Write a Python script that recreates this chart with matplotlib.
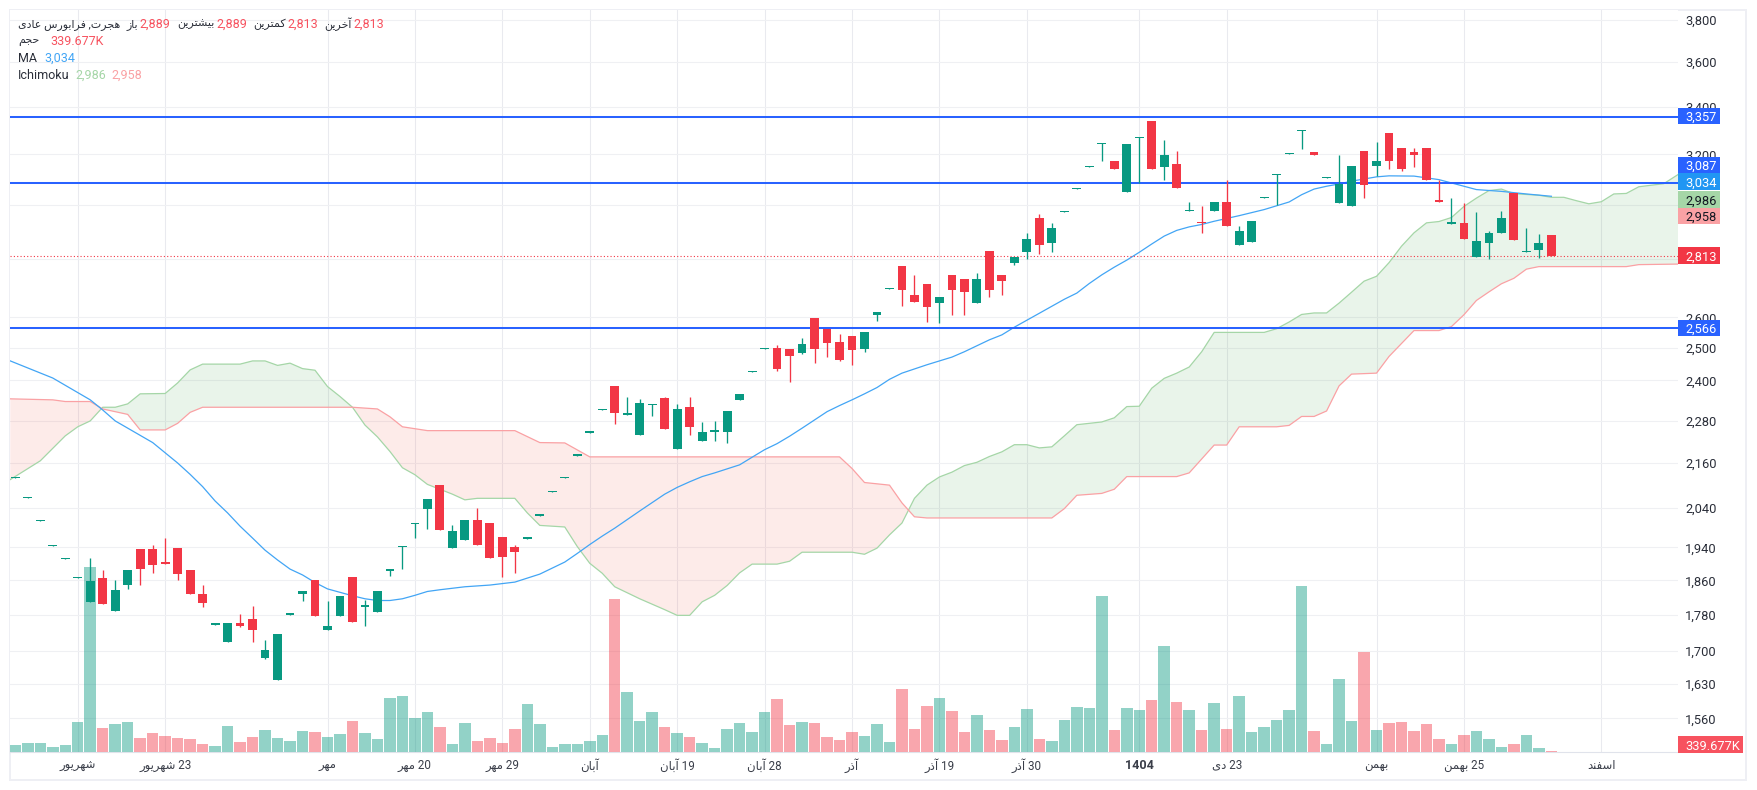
import numpy as np
import matplotlib
matplotlib.use("Agg")
import matplotlib.pyplot as plt
from matplotlib.patches import Rectangle
from matplotlib.ticker import NullLocator

plt.rcParams['font.family'] = ['Roboto', 'DejaVu Sans']

# OHLC, one row per session: open, high, low, close
ohlc = [
(2118,2122,2118,2122),(2065,2069,2065,2069),(2005,2009,2005,2009),(1943,1947,1943,1947),(1911,1915,1911,1915),
(1865,1869,1865,1869),(1810,1914,1810,1858),(1866,1885,1804,1804),(1788,1861,1788,1838),(1849,1885,1840,1885),
(1936,1936,1849,1887),(1936,1946,1878,1897),(1904,1964,1900,1900),(1938,1938,1861,1875),(1885,1885,1829,1829),
(1829,1849,1797,1808),(1758,1762,1758,1762),(1719,1761,1719,1761),(1761,1781,1752,1756),(1770,1801,1719,1747),
(1685,1723,1683,1703),(1639,1738,1639,1738),(1780,1784,1780,1784),(1829,1836,1813,1836),(1861,1861,1778,1778),
(1747,1811,1747,1756),(1778,1824,1778,1824),(1868,1868,1765,1765),(1798,1815,1754,1802),(1786,1836,1786,1836),
(1883,1887,1870,1887),(1940,1944,1887,1944),(1999,2002,1964,2002),(2038,2062,1987,2062),(2100,2100,1984,1984),
(1938,1997,1938,1982),(1959,2010,1959,2010),(2010,2041,1946,1946),(2002,2002,1914,1914),(1966,1966,1868,1916),
(1941,1946,1878,1929),(1961,1965,1961,1965),(2019,2023,2019,2023),(2081,2085,2081,2085),(2118,2122,2118,2122),
(2180,2184,2180,2184),(2245,2249,2245,2249),(2311,2315,2311,2315),(2383,2383,2270,2302),(2297,2350,2297,2301),
(2239,2344,2239,2332),(2325,2329,2293,2329),(2347,2350,2256,2256),(2200,2329,2200,2314),(2320,2350,2239,2261),
(2222,2275,2222,2247),(2247,2278,2222,2253),(2247,2308,2217,2308),(2341,2359,2341,2359),(2426,2430,2426,2430),
(2498,2502,2498,2502),(2501,2511,2429,2435),(2498,2498,2395,2476),(2485,2533,2482,2514),(2598,2598,2454,2498),
(2562,2562,2473,2517),(2520,2546,2461,2464),(2540,2540,2448,2495),(2498,2553,2488,2553),(2608,2618,2588,2618),
(2695,2699,2695,2699),(2777,2777,2639,2694),(2674,2746,2653,2653),(2712,2712,2585,2636),(2649,2670,2582,2670),
(2743,2743,2608,2691),(2729,2729,2608,2687),(2649,2753,2649,2732),(2831,2831,2667,2691),(2743,2743,2677,2722),
(2787,2809,2780,2809),(2827,2894,2801,2875),(2950,2968,2820,2853),(2857,2931,2827,2912),(2972,2976,2972,2976),
(3061,3065,3061,3065),(3151,3155,3151,3155),(3242,3246,3174,3246),(3174,3174,3143,3143),(3052,3243,3052,3243),
(3266,3270,3084,3270),(3338,3338,3143,3143),(3150,3259,3099,3197),(3162,3214,3068,3068),(2979,3012,2979,2983),
(2935,2998,2897,2931),(2979,3013,2979,3013),(3013,3099,2920,2920),(2850,2920,2850,2902),(2861,2940,2861,2940),
(3028,3032,3028,3032),(3118,3122,3000,3122),(3202,3206,3202,3206),(3297,3301,3222,3301),(3210,3210,3197,3197),
(3104,3108,3104,3108),(3009,3197,3009,3080),(2998,3154,2998,3154),(3214,3214,3029,3076),(3154,3251,3115,3174),
(3289,3289,3143,3174),(3226,3226,3135,3143),(3210,3226,3150,3197),(3226,3226,3099,3099),(3021,3099,3013,3013),
(2930,3029,2930,2938),(2934,3009,2872,2872),(2809,2975,2809,2865),(2857,2902,2801,2894),(2897,2979,2897,2953),
(3045,3045,2868,2868),(2825,2915,2825,2829),(2835,2893,2805,2857),(2889,2889,2813,2813),
]

# volume, millions
volume = [
2.1,2.7,2.7,1.5,2.1,9.0,55.5,7.2,8.4,9.0,
4.2,5.7,4.8,4.2,3.9,2.4,1.8,7.8,3.0,4.5,
6.6,4.2,3.3,6.3,6.0,4.5,5.4,9.3,5.7,3.9,
16.2,16.8,10.2,12.0,7.5,2.4,8.7,3.3,4.2,2.7,
6.9,14.4,8.4,1.5,2.4,2.4,3.3,5.1,45.9,18.0,
9.3,12.0,7.5,5.7,4.5,2.7,1.2,6.9,8.7,6.0,
12.0,15.9,8.1,9.0,8.7,4.5,3.6,6.0,4.8,8.4,
3.0,18.9,6.9,13.8,16.2,12.3,6.0,11.1,6.6,3.6,
7.5,12.9,3.9,3.3,9.6,13.5,13.2,46.8,6.6,13.2,
12.6,15.6,31.8,15.0,12.6,6.6,14.7,6.9,16.8,6.0,
7.5,9.6,12.6,49.8,6.3,2.4,21.9,9.3,30.0,6.6,
8.7,9.0,6.3,8.4,3.9,2.4,5.1,6.3,3.9,1.5,
2.4,5.1,1.2,0.34,
]

ma_x = [-0.4,3,6,7,8,11,13,14,15,16,17,18,19,20,21,22,23,24,25,26,27,28,29,30,31,32,33,34,36,38,40,42,44,45,46,47,48,50,52,53,54,55,56,58,59,60,61,62,63,65,66,67,68,69,70,71,73,75,76,78,79,80,82,84,85,86,87,88,89,90,91,92,93,94,95,96,98,100,102,103,104,105,106,107,109,110,112,114,116,117,119,121,123]
ma_val = [2460,2407,2341,2311,2279,2217,2160,2129,2096,2058,2027,1993,1963,1933,1909,1887,1873,1855,1840,1832,1824,1817,1813,1813,1817,1825,1834,1838,1845,1849,1856,1875,1904,1925,1947,1968,1988,2032,2076,2094,2109,2123,2133,2155,2176,2197,2214,2235,2258,2306,2324,2341,2359,2378,2403,2422,2448,2472,2489,2527,2543,2568,2614,2661,2682,2715,2745,2772,2797,2825,2855,2884,2905,2918,2927,2939,2960,2983,3012,3040,3062,3073,3082,3093,3110,3114,3113,3099,3073,3060,3053,3043,3034]

span_a_x = [-0.4,2,4,5,6,7,8,9,10,12,13,14,15,18,19,20,21,22,23,24,25,26,27,28,29,30,31,32,33,34,35,36,37,40,41,42,44,45,46,47,48,50,52,53,54,55,56,57,58,59,61,62,63,67,68,69,70,71,72,73,74,75,76,77,78,79,80,81,82,83,84,85,87,88,89,90,91,92,93,94,95,96,100,101,102,103,104,105,106,107,108,109,110,111,112,113,114,115,116,117,118,119,120,122,123,124,125,126,127,128,129,130,132,133.2]
span_a = [2115,2166,2236,2262,2279,2319,2319,2329,2359,2360,2392,2432,2450,2450,2460,2460,2446,2453,2436,2431,2381,2351,2319,2267,2233,2192,2147,2128,2102,2089,2076,2061,2065,2065,2027,1995,1991,1942,1901,1877,1845,1817,1792,1779,1779,1810,1825,1848,1878,1899,1899,1906,1928,1928,1923,1938,1971,2001,2065,2100,2122,2135,2153,2162,2178,2191,2211,2211,2202,2205,2236,2268,2276,2288,2321,2322,2376,2406,2422,2441,2489,2551,2551,2563,2585,2610,2615,2615,2648,2685,2723,2740,2788,2847,2896,2933,2938,2953,2995,3027,3056,3062,3044,3038,3030,3030,3017,3005,3013,3043,3045,3071,3083,3121]

span_b_x = [-0.4,3,4,6,7,9,10,12,13,14,15,27,29,30,31,33,40,42,44,46,66,67,68,70,71,72,73,83,84,85,87,88,89,93,94,96,97,98,101,102,103,104,105,106,107,109,110,112,114,115,116,117,118,119,120,121,122,129,130,133.2]
span_b = [2344,2341,2336,2336,2314,2298,2253,2253,2272,2304,2319,2319,2314,2291,2262,2251,2251,2217,2216,2177,2177,2145,2107,2100,2053,2017,2014,2014,2038,2073,2078,2089,2123,2123,2133,2210,2210,2262,2262,2266,2292,2292,2308,2383,2419,2422,2474,2557,2557,2570,2609,2657,2686,2714,2733,2765,2774,2774,2781,2783]

level_lines = [3357, 3087, 2566]
last_price = 2813
y_ticks = [3800,3600,3400,3200,3000,2800,2600,2500,2400,2280,2160,2040,1940,1860,1780,1700,1630,1560]
y_hidden = [3000, 2800]
x_tick_pos = [5,12,25,32,39,46,53,60,67,74,81,90,97,109,116,127]
x_tick_labels = ['شهریور','23 شهریور','مهر','20 مهر','29 مهر','آبان','19 آبان','28 آبان','آذر','19 آذر','30 آذر','1404','23 دی','بهمن','25 بهمن','اسفند']

FORMS = {
 'ا':(0xFE8D,0xFE8E,0,0),'آ':(0xFE81,0xFE82,0,0),'د':(0xFEA9,0xFEAA,0,0),'ذ':(0xFEAB,0xFEAC,0,0),
 'ر':(0xFEAD,0xFEAE,0,0),'ز':(0xFEAF,0xFEB0,0,0),'و':(0xFEED,0xFEEE,0,0),
 'ب':(0xFE8F,0xFE90,0xFE91,0xFE92),'ت':(0xFE95,0xFE96,0xFE97,0xFE98),'ج':(0xFE9D,0xFE9E,0xFE9F,0xFEA0),
 'ح':(0xFEA1,0xFEA2,0xFEA3,0xFEA4),'خ':(0xFEA5,0xFEA6,0xFEA7,0xFEA8),'س':(0xFEB1,0xFEB2,0xFEB3,0xFEB4),
 'ش':(0xFEB5,0xFEB6,0xFEB7,0xFEB8),'ع':(0xFEC9,0xFECA,0xFECB,0xFECC),'ف':(0xFED1,0xFED2,0xFED3,0xFED4),
 'ک':(0xFB8E,0xFB8F,0xFB90,0xFB91),'م':(0xFEE1,0xFEE2,0xFEE3,0xFEE4),'ن':(0xFEE5,0xFEE6,0xFEE7,0xFEE8),
 'ه':(0xFEE9,0xFEEA,0xFEEB,0xFEEC),'ی':(0xFBFC,0xFBFD,0xFBFE,0xFBFF),
}

def shape_word(w):
    out = []
    for k, ch in enumerate(w):
        if ch not in FORMS:
            out.append(ch)
            continue
        f = FORMS[ch]
        prev = w[k-1] if k else ''
        nxt = w[k+1] if k+1 < len(w) else ''
        joins_prev = prev in FORMS and FORMS[prev][2] != 0
        joins_next = nxt in FORMS and f[2] != 0
        code = f[3] if joins_prev and joins_next else f[1] if joins_prev else f[2] if joins_next else f[0]
        out.append(chr(code))
    return ''.join(reversed(out))

def rtl(s):
    return ' '.join(t if t[0].isdigit() else shape_word(t) for t in reversed(s.split(' ')))

W, H = 1757, 790
L, R, T, B = 10.3, 1677.5, 10.3, 751.7
UP, DOWN = '#089981', '#f23645'
BLUE = '#2962ff'
XLIM = (-0.4, 133.1)
YLIM = (1495.4, 3845)

fig = plt.figure(figsize=(W/100, H/100), dpi=100, facecolor='white')
rect = [L/W, 1-B/H, (R-L)/W, (B-T)/H]
ax_g = fig.add_axes(rect, zorder=1)   # grid, ticks
ax_v = fig.add_axes(rect, zorder=2)   # volume, translucent over the grid
ax = fig.add_axes(rect, zorder=3)     # price marks
ax_v.patch.set_visible(False)
ax.patch.set_visible(False)

opens, highs, lows, closes = map(np.array, zip(*ohlc))
x = np.arange(len(ohlc))
colors = [UP if c >= o else DOWN for o, c in zip(opens, closes)]

# grid and ticks
ax_g.set_yscale('log')
ax_g.set_xlim(*XLIM)
ax_g.set_ylim(*YLIM)
ax_g.yaxis.set_minor_locator(NullLocator())
ax_g.yaxis.tick_right()
ax_g.set_yticks(y_ticks)
ax_g.set_yticklabels(['' if v in y_hidden else f'{v:,}' for v in y_ticks], fontsize=9.3, color='#2a2e39')
ax_g.set_xticks(x_tick_pos)
ax_g.set_xticklabels([rtl(s) for s in x_tick_labels], fontsize=8.4, color='#3a3e49')
ax_g.get_xticklabels()[x_tick_labels.index('1404')].set_fontweight('bold')
ax_g.get_xticklabels()[x_tick_labels.index('1404')].set_fontsize(9)
ax_g.tick_params(axis='y', which='major', length=0, pad=5.5)
ax_g.tick_params(axis='x', length=0, pad=5)
ax_g.grid(True, axis='y', color='#eff0f3', lw=0.8)
ax_g.grid(True, axis='x', color='#e9eaef', lw=0.75)
for name, sp in ax_g.spines.items():
    sp.set_visible(name == 'bottom')
ax_g.spines['bottom'].set_color('#e0e3eb')

# volume
ax_v.bar(x, volume, width=0.92, color=colors, alpha=0.44, linewidth=0)
ax_v.set_xlim(*XLIM)
ax_v.set_ylim(0, 222.4)
ax_v.axis('off')

# price axes
ax.set_yscale('log')
ax.set_xlim(*XLIM)
ax.set_ylim(*YLIM)
ax.axis('off')

# ichimoku cloud
grid_x = np.linspace(-0.4, 133.2, 2700)
a_i = np.interp(grid_x, span_a_x, span_a)
b_i = np.interp(grid_x, span_b_x, span_b)
ax.fill_between(grid_x, a_i, b_i, where=a_i >= b_i, color='#43a047', alpha=0.115, lw=0, zorder=1.5)
ax.fill_between(grid_x, a_i, b_i, where=a_i < b_i, color='#f44336', alpha=0.105, lw=0, zorder=1.5)
ax.plot(span_a_x, span_a, color='#a5d6a7', lw=0.9, zorder=1.6)
ax.plot(span_b_x, span_b, color='#faa1a4', lw=0.9, zorder=1.6)

# moving average
ax.plot(ma_x, ma_val, color='#42a5f5', lw=0.9, zorder=3)

# levels
for lv in level_lines:
    ax.axhline(lv, color=BLUE, lw=1.45, zorder=3.5)
ax.axhline(last_price, color=DOWN, lw=0.8, ls=(0, (1, 2)), zorder=3.5)

# candles
ax.vlines(x, lows, highs, colors=colors, lw=0.95, zorder=4)
ax.bar(x, np.abs(closes-opens), bottom=np.minimum(opens, closes), width=0.705, color=colors, linewidth=0, zorder=4.1)

# outer frame
fig.add_artist(Rectangle((9.5/W, 1-780/H), 1736/W, 770/H, transform=fig.transFigure, fill=False,
                         edgecolor='#eeeff4', lw=1.4, zorder=0.5))

# price scale labels
def box(py, text, bg, fg='white', x1=1719.6):
    fig.add_artist(Rectangle((R/W, 1-(py+8.3)/H), (x1-R)/W, 16.6/H, transform=fig.transFigure,
                             facecolor=bg, edgecolor='none', zorder=10))
    fig.text(1685/W, 1-py/H, text, fontsize=9.3, color=fg, va='center_baseline', ha='left', zorder=11)

box(116, '3,357', BLUE)
box(165, '3,087', BLUE)
box(181.7, '3,034', '#2196f3')
box(199.3, '2,986', '#a5d6a7', '#131722')
box(216, '2,958', '#faa1a4', '#131722')
box(255.3, '2,813', DOWN)
box(328, '2,566', BLUE)
box(744.7, '339.677K', '#f7525f', x1=1742.5)

# legend
def t(px, py, s, c='#2a2e39', ha='left', size=9):
    fig.text(px/W, 1-py/H, s, fontsize=size, color=c, va='center_baseline', ha=ha, zorder=11)

RED = '#f7525f'
t(18, 23, rtl('هجرت, فرابورس عادی'), size=7.9)
t(138, 23, rtl('باز'), ha='right', size=7.9); t(139, 23, '2,889', RED)
t(215, 23, rtl('بیشترین'), ha='right', size=7.9); t(216, 23, '2,889', RED)
t(286, 23, rtl('کمترین'), ha='right', size=7.9); t(287, 23, '2,813', RED)
t(352, 23, rtl('آخرین'), ha='right', size=7.9); t(353, 23, '2,813', RED)
t(18, 40, rtl('حجم'), size=7.9); t(50, 40, '339.677K', RED)
t(18, 57, 'MA'); t(44, 57, '3,034', '#42a5f5')
t(18, 74, 'Ichimoku'); t(75, 74, '2,986', '#a5d6a7'); t(111, 74, '2,958', '#faa1a4')

fig.savefig('out.png', dpi=100)
